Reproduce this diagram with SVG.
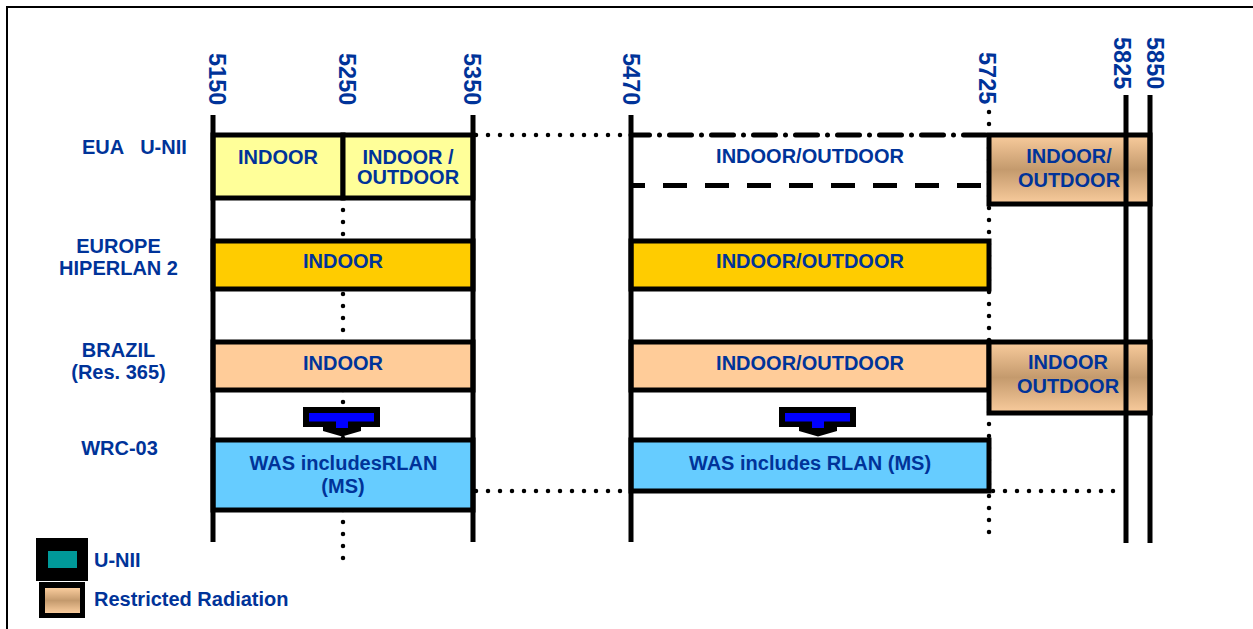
<svg xmlns="http://www.w3.org/2000/svg" width="1253" height="629" viewBox="0 0 1253 629">
<defs>
<linearGradient id="tan" x1="0" y1="0" x2="0" y2="1">
<stop offset="0" stop-color="#F9CC9D"/>
<stop offset="0.5" stop-color="#C49A6D"/>
<stop offset="1" stop-color="#F9CC9D"/>
</linearGradient>
<style>
text{font-family:"Liberation Sans",Arial,sans-serif;font-weight:bold;fill:#003399}
.lbl{font-size:20px}
.c{text-anchor:middle}
.num{font-size:23.5px}
.box{stroke:#000;stroke-width:5}
.vl{stroke:#000;stroke-width:5;fill:none}
.dot{stroke:#000;stroke-width:4.5;stroke-linecap:round;stroke-dasharray:0 12;fill:none}
</style>
</defs>
<rect x="7" y="7" width="1260" height="640" fill="#fff" stroke="#000" stroke-width="2"/>

<g id="freq-labels">
<text class="num" transform="translate(208.5,53) rotate(90)">5150</text>
<text class="num" transform="translate(338.5,53) rotate(90)">5250</text>
<text class="num" transform="translate(463.5,53) rotate(90)">5350</text>
<text class="num" transform="translate(623,53) rotate(90)">5470</text>
<text class="num" transform="translate(978.5,52) rotate(90)">5725</text>
<text class="num" transform="translate(1114,37) rotate(90)">5825</text>
<text class="num" transform="translate(1147,37) rotate(90)">5850</text>
</g>

<g id="row-labels">
<text class="lbl" x="82" y="154" xml:space="preserve">EUA   U-NII</text>
<text class="lbl c" x="118.5" y="253">EUROPE</text>
<text class="lbl c" x="118.5" y="275">HIPERLAN 2</text>
<text class="lbl c" x="118.5" y="357">BRAZIL</text>
<text class="lbl c" x="118.5" y="379">(Res. 365)</text>
<text class="lbl c" x="119.5" y="455">WRC-03</text>
</g>

<g id="connectors">
<line class="dot" x1="343" y1="198" x2="343" y2="570"/>
<line class="dot" x1="989" y1="112" x2="989" y2="533"/>
<line class="dot" x1="476" y1="135" x2="628" y2="135"/>
<line class="dot" x1="476" y1="491" x2="628" y2="491"/>
<line class="dot" x1="993" y1="491" x2="1120" y2="491"/>
<line x1="631" y1="135" x2="987" y2="135" stroke="#000" stroke-width="5" stroke-linecap="round" stroke-dasharray="22 10 0 10" stroke-dashoffset="3.5"/>
<line x1="631" y1="185.5" x2="985" y2="185.5" stroke="#000" stroke-width="5" stroke-dasharray="24 18" stroke-dashoffset="10"/>
</g>

<g id="eua-5150-5250">
<rect class="box" x="213" y="135" width="130" height="63" fill="#FFFF99"/>
<text class="lbl c" x="278" y="164">INDOOR</text>
</g>
<g id="eua-5250-5350">
<rect class="box" x="343" y="135" width="130" height="63" fill="#FFFF99"/>
<text class="lbl c" x="408" y="163.5">INDOOR /</text>
<text class="lbl c" x="408" y="184">OUTDOOR</text>
</g>
<g id="eua-5470-5725">
<text class="lbl c" x="810" y="163">INDOOR/OUTDOOR</text>
</g>
<g id="eua-5725-5850">
<rect class="box" x="989" y="135" width="161" height="69" fill="url(#tan)"/>
<text class="lbl c" x="1069" y="163">INDOOR/</text>
<text class="lbl c" x="1069" y="187">OUTDOOR</text>
</g>

<g id="europe-5150-5350">
<rect class="box" x="213" y="241" width="260" height="48" fill="#FFCC00"/>
<text class="lbl c" x="343" y="268">INDOOR</text>
</g>
<g id="europe-5470-5725">
<rect class="box" x="631" y="241" width="358" height="48" fill="#FFCC00"/>
<text class="lbl c" x="810" y="268">INDOOR/OUTDOOR</text>
</g>

<g id="brazil-5150-5350">
<rect class="box" x="213" y="342" width="260" height="48" fill="#FFCC99"/>
<text class="lbl c" x="343" y="370">INDOOR</text>
</g>
<g id="brazil-5470-5725">
<rect class="box" x="631" y="342" width="358" height="48" fill="#FFCC99"/>
<text class="lbl c" x="810" y="370">INDOOR/OUTDOOR</text>
</g>
<g id="brazil-5725-5850">
<rect class="box" x="989" y="342" width="161" height="71" fill="url(#tan)"/>
<text class="lbl c" x="1068" y="369">INDOOR</text>
<text class="lbl c" x="1068" y="393">OUTDOOR</text>
</g>

<g id="arrow-left">
<path d="M303,407 H380 V427 H361 V431 L342,436.5 L323,431 V427 H303 Z" fill="#000"/>
<rect x="309" y="413" width="65" height="8.5" fill="#0000FF"/>
<rect x="336" y="421" width="12" height="7" fill="#0000FF"/>
</g>
<g id="arrow-right" transform="translate(476,0)">
<path d="M303,407 H380 V427 H361 V431 L342,436.5 L323,431 V427 H303 Z" fill="#000"/>
<rect x="309" y="413" width="65" height="8.5" fill="#0000FF"/>
<rect x="336" y="421" width="12" height="7" fill="#0000FF"/>
</g>

<g id="wrc-5150-5350">
<rect class="box" x="213" y="440" width="260" height="70" fill="#66CCFF"/>
<text class="lbl c" x="343.5" y="470">WAS includesRLAN</text>
<text class="lbl c" x="343" y="493">(MS)</text>
</g>
<g id="wrc-5470-5725">
<rect class="box" x="631" y="440" width="358" height="51" fill="#66CCFF"/>
<text class="lbl c" x="810" y="470">WAS includes RLAN (MS)</text>
</g>

<g id="freq-lines">
<line class="vl" x1="213" y1="115" x2="213" y2="542"/>
<line class="vl" x1="473" y1="115" x2="473" y2="542"/>
<line class="vl" x1="631" y1="115" x2="631" y2="542"/>
<line class="vl" x1="1126" y1="95" x2="1126" y2="543"/>
<line class="vl" x1="1150" y1="95" x2="1150" y2="543"/>
</g>

<g id="legend-unii">
<rect x="36" y="538" width="52" height="43" fill="#000"/>
<rect x="48" y="551" width="29" height="17" fill="#009999"/>
<text class="lbl" x="94" y="567">U-NII</text>
</g>
<g id="legend-restricted">
<rect x="39" y="582" width="46" height="36" fill="#000"/>
<rect x="45" y="588" width="35" height="25" fill="url(#tan)"/>
<text class="lbl" x="94" y="606">Restricted Radiation</text>
</g>
</svg>
